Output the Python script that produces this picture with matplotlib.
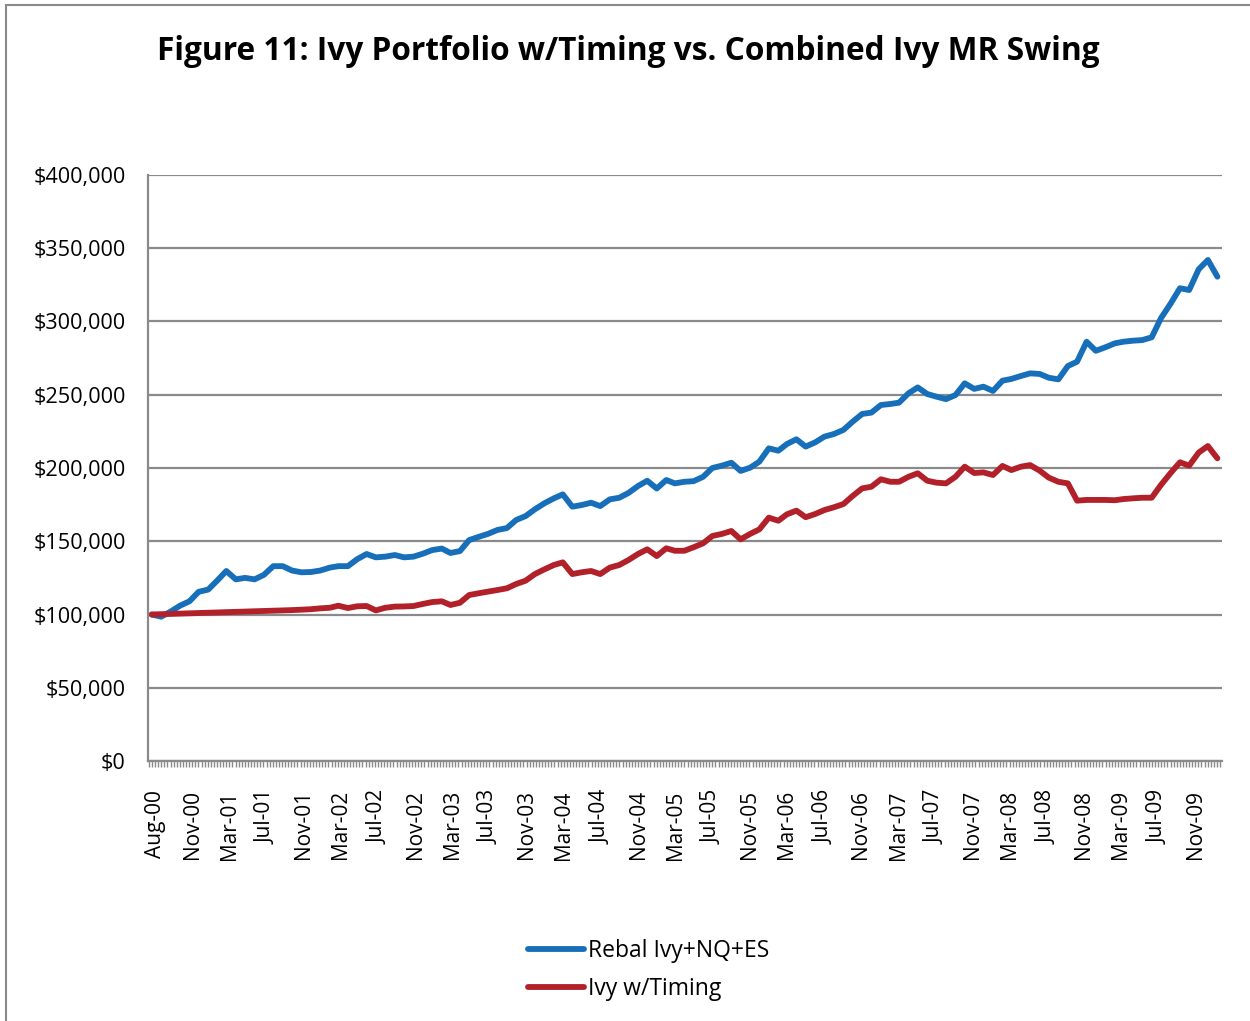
import numpy as np
import pandas as pd
import matplotlib
matplotlib.use("Agg")
import matplotlib.pyplot as plt
import matplotlib.dates as mdates
from matplotlib.patches import Rectangle
from matplotlib.ticker import FuncFormatter, FixedLocator

plt.rcParams["font.family"] = ["Open Sans", "DejaVu Sans"]

# monthly points (around the 21st), Jul-2000 .. Jan-2010, values in $1000
dates = pd.date_range("2000-07-21", periods=115, freq=pd.DateOffset(months=1))

rebal_ivy_nq_es = [
    100, 98.5, 102, 106, 109, 115.5, 117, 123.5, 129.7, 124,
    125, 124, 127, 133, 133, 130, 128.8, 129, 130, 132,
    133, 133, 137.7, 141.3, 139, 139.5, 140.6, 139, 139.5, 141.5,
    144, 145, 142, 143.3, 150.8, 153, 155, 157.7, 159, 164.5,
    167.2, 171.8, 175.9, 179.3, 182, 173.6, 174.7, 176.3, 174, 178.6,
    179.7, 183, 187.7, 191.3, 186, 191.8, 189.5, 190.6, 191, 194,
    200, 201.6, 203.6, 198, 200.2, 204.3, 213.4, 211.8, 216.4, 219.6,
    214.6, 217.5, 221.4, 223.2, 226, 231.6, 236.9, 237.8, 243, 243.7,
    244.6, 251, 255, 250.5, 248.7, 247, 249.8, 257.8, 254, 255.5,
    252.6, 259.6, 260.8, 262.8, 264.6, 264.2, 261.6, 260.5, 269.6, 272.6,
    286.2, 280, 282.4, 285.1, 286.2, 286.9, 287.3, 289.2, 302.2, 312,
    322.7, 321.5, 335.6, 342, 330.6,
]
ivy_timing = [
    100, 100.2, 100.4, 100.6, 100.8, 101.0, 101.2, 101.4, 101.6, 101.8,
    102.0, 102.2, 102.4, 102.6, 102.8, 103.0, 103.3, 103.6, 104.2, 104.6,
    106.0, 104.4, 105.6, 105.8, 102.8, 104.6, 105.4, 105.5, 105.8, 107.2,
    108.5, 109.0, 106.5, 108, 113.3, 114.5, 115.6, 116.7, 117.9, 120.8,
    123.1, 127.6, 130.8, 133.8, 135.6, 127.6, 128.8, 129.7, 127.6, 132,
    133.8, 137.2, 141.3, 144.5, 139.9, 145.2, 143.5, 143.5, 145.9, 148.6,
    153.6, 155, 157, 151.3, 155, 158.1, 166.1, 164, 168.4, 170.9,
    166.4, 168.6, 171.3, 173.2, 175.4, 180.9, 186.1, 187.2, 192.3, 190.6,
    190.6, 194, 196.4, 191.3, 190, 189.5, 194, 200.9, 196.6, 197,
    195.2, 201.4, 198.6, 200.9, 202, 198.2, 193.4, 190.6, 189.5, 177.7,
    178.2, 178.2, 178.2, 178, 178.8, 179.3, 179.7, 179.7, 188.4, 196.4,
    203.9, 201.6, 210.5, 215, 206.6,
]
series_names = ["Rebal Ivy+NQ+ES", "Ivy w/Timing"]
series_colors = ["#176EB9", "#B2202A"]

fig = plt.figure(figsize=(12.5, 10.21), dpi=100, facecolor="white")

# chart-area border (runs off the right and bottom edges like the source)
fig.patches.append(Rectangle((6 / 1250, -0.05), 1.2, 1.05 - 5 / 1021,
                             transform=fig.transFigure, fill=False,
                             edgecolor="#8a8a8a", linewidth=1.5))

ax = fig.add_axes([148 / 1250, 1 - 761 / 1021, (1222 - 148) / 1250, (761 - 175) / 1021])

for vals, name, col in zip([rebal_ivy_nq_es, ivy_timing], series_names, series_colors):
    ax.plot(dates, np.array(vals) * 1000, color=col, linewidth=4.2, label=name,
            solid_capstyle="round", solid_joinstyle="round")

ax.set_ylim(0, 400000)
ax.set_yticks(np.arange(0, 400001, 50000))
ax.yaxis.set_major_formatter(FuncFormatter(lambda v, p: f"${v:,.0f}"))
ax.grid(axis="y", color="#8a8a8a", linewidth=1.6)
ax.set_axisbelow(True)

x0 = mdates.date2num(pd.Timestamp("2000-07-09"))
x1 = mdates.date2num(pd.Timestamp("2010-02-05"))
ax.set_xlim(x0, x1)
t0 = mdates.date2num(pd.Timestamp("2000-08-01"))
ax.xaxis.set_major_locator(FixedLocator(np.arange(t0, x1, 121)))
ax.xaxis.set_minor_locator(FixedLocator(np.arange(t0 - 121, x1, 121 / 12)))
ax.xaxis.set_major_formatter(mdates.DateFormatter("%b-%y"))

for s in ["top", "right"]:
    ax.spines[s].set_visible(False)
for s in ["left", "bottom"]:
    ax.spines[s].set_color("#8a8a8a")
    ax.spines[s].set_linewidth(1.6)

ax.tick_params(axis="y", length=0, labelsize=15.6, pad=16)
ax.tick_params(axis="x", which="both", direction="out", length=4, width=1,
               color="#8a8a8a", labelsize=15, pad=17)
plt.setp(ax.get_xticklabels(), rotation=90)

fig.suptitle("Figure 11: Ivy Portfolio w/Timing vs. Combined Ivy MR Swing",
             x=0.503, y=0.950, va="center", fontsize=22.8, fontweight="bold")

fig.legend(loc="center", bbox_to_anchor=(0.519, 0.05), frameon=False,
           fontsize=16.5, handlelength=2.45, handletextpad=0.18, labelspacing=0.6)

fig.savefig("out.png", dpi=100, facecolor="white")
